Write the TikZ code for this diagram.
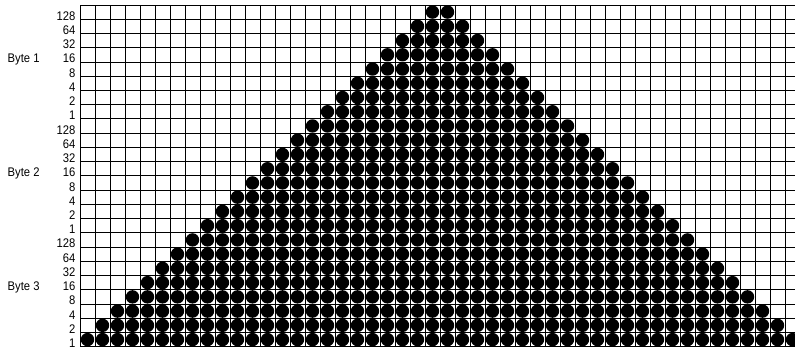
\documentclass[tikz,border=0pt]{standalone}
\usepackage{fontspec}
\setmainfont{Liberation Sans}
\newcommand{\narrowtxt}[1]{\scalebox{0.9}[1]{#1}}
\begin{document}
\begin{tikzpicture}[x=1pt,y=-1pt,
  gridline/.style={draw=black,line width=0.9pt},
  dot/.style={fill=black},
  bitlabel/.style={anchor=base east,inner sep=0pt,font=\fontsize{12.5}{13}\selectfont},
  bytelabel/.style={anchor=base west,inner sep=0pt,font=\fontsize{12.5}{13}\selectfont}]
\useasboundingbox (0,0) rectangle (795,349);
\begin{scope}
\clip (0,0) rectangle (795,349);
\pgfmathsetmacro{\cw}{15}
\pgfmathsetmacro{\rh}{14.24}
% dots
\foreach \r in {0,...,23}{% r = row from bottom
  \pgfmathtruncatemacro{\last}{47-\r}
  \foreach \c in {\r,...,\last}{
    \fill[dot] ({80+\cw*(\c+0.5)},{346.7-\rh*(\r+0.5)}) circle (6.7);
  }
}
% grid
\foreach \c in {0,...,48}{
  \draw[gridline] ({80+\cw*\c},5) -- ({80+\cw*\c},346.7);
}
\foreach \r in {0,...,24}{
  \draw[gridline] (80,{5+\rh*\r}) -- (800,{5+\rh*\r});
}
\end{scope}
% labels
\foreach \b in {0,1,2}{
  \foreach \v [count=\i from 1] in {128,64,32,16,8,4,2,1}{
    \node[bitlabel] (l\b\i) at (75.5,{5+14.24*(8*\b+\i)+0.9}) {\narrowtxt{\v}};
  }
}
\node[bytelabel] (b1) at (7.5,{5+14.24*4+0.9}) {\narrowtxt{Byte 1}};
\node[bytelabel] (b2) at (7.5,{5+14.24*12+0.9}) {\narrowtxt{Byte 2}};
\node[bytelabel] (b3) at (7.5,{5+14.24*20+0.9}) {\narrowtxt{Byte 3}};
\end{tikzpicture}
\end{document}
